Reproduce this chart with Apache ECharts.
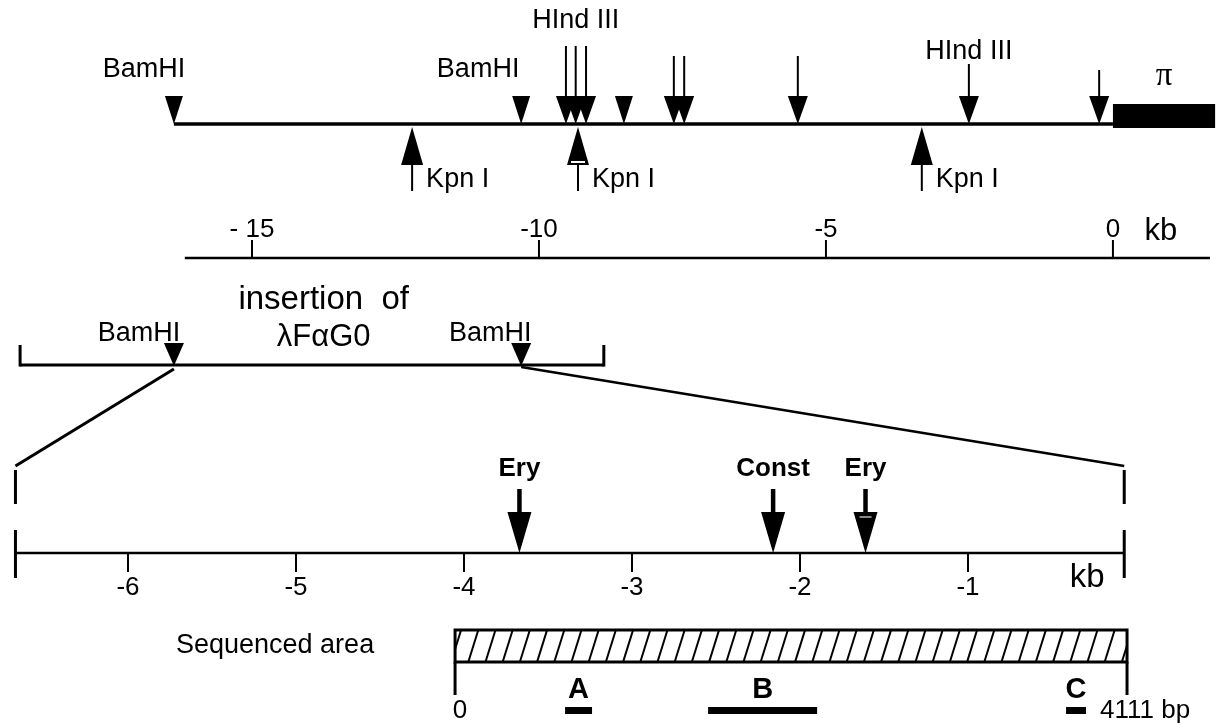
<!DOCTYPE html>
<html><head><meta charset="utf-8">
<script src="https://cdn.jsdelivr.net/npm/echarts@6/dist/echarts.min.js"></script>
<style>html,body{margin:0;padding:0;background:#fff}#c{width:1222px;height:728px}</style>
</head><body><div id="c"></div>
<script>
// ===== DATA =====
// upper restriction map (kb)
const mapSpan = [-16.36, 0];
const piRegion = [0, 1.78];
const piLabel = 'π';
const bamHISites = [-16.36, -10.31];
const bamHILabelPos = [-16.88, -11.06];
const plainTriangleSites = [-8.52];
const downArrowSites = [-9.53, -9.36, -9.18, -7.65, -7.47, -5.49, -2.51, -0.24];
const hindIIILabels = ['HInd III', 'HInd III'];
const hindIIILabelPos = [-9.36, -2.51];
const kpnISites = [-12.21, -9.32, -3.33];
const kpnINotched = [false, true, false];
const kpnILabel = 'Kpn I';
// upper scale (kb)
const topScaleSpan = [-16.17, 1.69];
const topTicks = [-15, -10, -5, 0];
const topTickLabels = ['- 15', '-10', '-5', '0'];
const unitLabel = 'kb';
// insertion bracket (kb, upper scale)
const insertionSpan = [-19.04, -8.87];
const insertionText = ['insertion  of', 'λFαG0'];
const insertionTextPos = -13.75;
const bamHILowerLabelPos = [-16.97, -10.85];
// expanded map (kb)
const lowerSpan = [-6.67, -0.07];
const lowerTicks = [-6, -5, -4, -3, -2, -1];
const lowerTickLabels = ['-6', '-5', '-4', '-3', '-2', '-1'];
const siteNames = ['Ery', 'Const', 'Ery'];
const sitePos = [-3.67, -2.16, -1.61];
const siteNotched = [false, false, true];
// sequenced area (bp)
const seqSpan = [0, 4111];
const seqEndLabels = ['0', '4111 bp'];
const seqTitle = 'Sequenced area';
const fragNames = ['A', 'B', 'C'];
const fragStart = [673, 1548, 3738];
const fragEnd = [838, 2215, 3860];

// ===== LAYOUT (pixel rows / sizes) =====
const L = {
  hindLabelY: [21, 52], bamLabelY: 70,
  mapY: 124, triTop: 96, triHW: 9,
  stemTop: [46, 46, 46, 56, 56, 56, 64, 70], headH: 28, headHW: 10,
  piTop: 104, piBottom: 128, piLabelY: 76,
  kpnTip: 127, kpnBase: 165, kpnStemEnd: 191, kpnHW: 11, kpnLabelY: 180, kpnLabelDx: 14,
  topScaleY: 258, topTickTop: 240, topLabelY: 230, unitDx: 48,
  insTextY: 300, insText2Y: 337, bracketY: 365, bracketTop: 345, insBamTop: 343, insBamLabelY: 334,
  zoomTopY: 369, zoomBotY: 466,
  lowY: 553, lowTickBottom: 572, lowLabelY: 588, endBar1: [470, 504], endBar2: [530, 578],
  lowUnitX: -0.22, lowUnitY: 578,
  siteLabelY: 469, siteStemTop: 489, siteHeadTop: 512, siteHeadHW: 12,
  seqTop: 630, seqBottom: 662, seqLegBottom: 695, seqTitleDx: -180,
  fragLabelY: 690, fragTop: 707, fragBottom: 714, endLabelY: 711, endLabelDx: [5, -27]
};
const FONT = "'Liberation Sans', Arial, Helvetica, sans-serif";
const INK = '#000';

// ===== HELPERS =====
function P(api, x, y) { return api.coord([x, y]); }
function line(a, b, w, color) { return { type: 'line', shape: { x1: a[0], y1: a[1], x2: b[0], y2: b[1] }, style: { stroke: color || INK, lineWidth: w || 2 } }; }
function poly(pts) { return { type: 'polygon', shape: { points: pts }, style: { fill: INK } }; }
function text(t, x, y, size, opt) {
  opt = opt || {};
  return { type: 'text', style: { text: t, x: x, y: y, font: (opt.weight || 'normal') + ' ' + size + 'px ' + (opt.family || FONT), fill: INK, align: opt.align || 'center', verticalAlign: 'middle' } };
}
function cs(grid, data, fn) {
  return { type: 'custom', xAxisIndex: grid, yAxisIndex: grid, data: data, clip: false, silent: true,
    renderItem: function (params, api) { return { type: 'group', children: fn(params, api) }; } };
}
function downTri(api, v, top, tip, hw) {
  const a = P(api, v, tip), t = P(api, v, top);
  return poly([[a[0] - hw, t[1]], [a[0] + hw, t[1]], [a[0], a[1]]]);
}

const series = [];
// upper map line + pi box
series.push(cs(0, [mapSpan], (p, api) => [line(P(api, api.value(0), L.mapY), P(api, api.value(1), L.mapY), 3.5)]));
series.push(cs(0, [piRegion], (p, api) => {
  const a = P(api, api.value(0), L.piTop), b = P(api, api.value(1), L.piBottom);
  const c = P(api, (api.value(0) + api.value(1)) / 2, L.piLabelY);
  return [{ type: 'rect', shape: { x: a[0], y: a[1], width: b[0] - a[0], height: b[1] - a[1] }, style: { fill: INK } },
    text(piLabel, c[0], c[1], 33, { family: "'Liberation Serif', 'DejaVu Serif', serif" })];
}));
// BamHI and plain triangles
series.push(cs(0, bamHISites.map((v, i) => [v, bamHILabelPos[i]]), (p, api) => {
  const lp = P(api, api.value(1), L.bamLabelY);
  return [downTri(api, api.value(0), L.triTop, L.mapY, L.triHW), text('BamHI', lp[0], lp[1], 27)];
}));
series.push(cs(0, plainTriangleSites.map(v => [v]), (p, api) => [downTri(api, api.value(0), L.triTop, L.mapY, L.triHW)]));
// HindIII-type arrows
series.push(cs(0, downArrowSites.map(v => [v]), (p, api) => {
  const v = api.value(0);
  const top = P(api, v, L.stemTop[p.dataIndex]), hd = P(api, v, L.mapY - L.headH);
  return [line(top, hd, 2), downTri(api, v, L.mapY - L.headH, L.mapY, L.headHW)];
}));
series.push(cs(0, hindIIILabelPos.map((v, i) => [v, i]), (p, api) => {
  const c = P(api, api.value(0), L.hindLabelY[p.dataIndex]);
  return [text(hindIIILabels[p.dataIndex], c[0], c[1], 27)];
}));
// KpnI arrows
series.push(cs(0, kpnISites.map(v => [v]), (p, api) => {
  const v = api.value(0);
  const tip = P(api, v, L.kpnTip), base = P(api, v, L.kpnBase), end = P(api, v, L.kpnStemEnd);
  const lp = P(api, v, L.kpnLabelY);
  const out = [poly([[tip[0], tip[1]], [tip[0] - L.kpnHW, base[1]], [tip[0] + L.kpnHW, base[1]]]), line(base, end, 2),
    text(kpnILabel, lp[0] + L.kpnLabelDx, lp[1], 27, { align: 'left' })];
  if (kpnINotched[p.dataIndex]) out.push(line([base[0] - 7, base[1] - 3], [base[0] + 7, base[1] - 3], 2, '#fff'));
  return out;
}));
// upper scale
series.push(cs(0, [topScaleSpan], (p, api) => [line(P(api, api.value(0), L.topScaleY), P(api, api.value(1), L.topScaleY), 2.5)]));
series.push(cs(0, topTicks.map((v, i) => [v, i]), (p, api) => {
  const v = api.value(0);
  const a = P(api, v, L.topTickTop), b = P(api, v, L.topScaleY), lp = P(api, v, L.topLabelY);
  const out = [line(a, b, 2), text(topTickLabels[p.dataIndex], lp[0], lp[1], 26)];
  if (p.dataIndex === topTicks.length - 1) out.push(text(unitLabel, lp[0] + L.unitDx, lp[1] + 1, 31));
  return out;
}));
// insertion bracket
series.push(cs(0, [insertionSpan], (p, api) => {
  const a = P(api, api.value(0), L.bracketY), b = P(api, api.value(1), L.bracketY);
  const at = P(api, api.value(0), L.bracketTop), bt = P(api, api.value(1), L.bracketTop);
  const t1 = P(api, insertionTextPos, L.insTextY), t2 = P(api, insertionTextPos, L.insText2Y);
  return [line([a[0], a[1]], [b[0], b[1]], 3), line(at, [a[0], a[1] + 1.5], 3), line(bt, [b[0], b[1] + 1.5], 3),
    text(insertionText[0], t1[0], t1[1], 33), text(insertionText[1], t2[0], t2[1], 31)];
}));
series.push(cs(0, bamHISites.map((v, i) => [v, bamHILowerLabelPos[i]]), (p, api) => {
  const lp = P(api, api.value(1), L.insBamLabelY);
  return [downTri(api, api.value(0), L.insBamTop, L.bracketY + 1, L.triHW + 1), text('BamHI', lp[0], lp[1], 27)];
}));
// expanded scale
series.push(cs(1, [lowerSpan], (p, api) => {
  const a = P(api, api.value(0), L.lowY), b = P(api, api.value(1), L.lowY);
  const out = [line(a, b, 2.5)];
  [api.value(0), api.value(1)].forEach(v => {
    out.push(line(P(api, v, L.endBar1[0]), P(api, v, L.endBar1[1]), 3));
    out.push(line(P(api, v, L.endBar2[0]), P(api, v, L.endBar2[1]), 3));
  });
  const u = P(api, api.value(1) + L.lowUnitX, L.lowUnitY);
  out.push(text(unitLabel, u[0], u[1], 33));
  return out;
}));
series.push(cs(1, lowerTicks.map((v, i) => [v, i]), (p, api) => {
  const v = api.value(0);
  const a = P(api, v, L.lowY), b = P(api, v, L.lowTickBottom), lp = P(api, v, L.lowLabelY);
  return [line(a, b, 2), text(lowerTickLabels[p.dataIndex], lp[0], lp[1], 26)];
}));
series.push(cs(1, sitePos.map((v, i) => [v, i]), (p, api) => {
  const v = api.value(0);
  const top = P(api, v, L.siteStemTop), hd = P(api, v, L.siteHeadTop), tip = P(api, v, L.lowY);
  const lp = P(api, v, L.siteLabelY);
  const out = [line(top, [hd[0], hd[1] + 2], 4.5),
    poly([[hd[0] - L.siteHeadHW, hd[1]], [hd[0] + L.siteHeadHW, hd[1]], [tip[0], tip[1]]]),
    text(siteNames[p.dataIndex], lp[0], lp[1], 26, { weight: 'bold' })];
  if (siteNotched[p.dataIndex]) out.push(line([hd[0] - 6, hd[1] + 5], [hd[0] + 6, hd[1] + 5], 2, '#888'));
  return out;
}));
// sequenced area
series.push(cs(2, [seqSpan], (p, api) => {
  const a = P(api, api.value(0), L.seqTop), b = P(api, api.value(1), L.seqBottom);
  const x0 = a[0], x1 = b[0], yT = a[1], yB = b[1], h = yB - yT;
  const out = [{ type: 'rect', shape: { x: x0, y: yT, width: x1 - x0, height: h }, style: { fill: '#fff', stroke: INK, lineWidth: 3 } }];
  const dx = 10, period = 17.2;
  for (let s = x0 - dx + 6; s < x1; s += period) {
    let sx = s, sy = yB, ex = s + dx, ey = yT;
    if (sx < x0) { sy = yB - (x0 - s) / dx * h; sx = x0; }
    if (ex > x1) { ey = yB - (x1 - s) / dx * h; ex = x1; }
    if (ex > sx) out.push(line([sx, sy], [ex, ey], 2));
  }
  const la = P(api, api.value(0), L.seqLegBottom), lb = P(api, api.value(1), L.seqLegBottom);
  out.push(line([x0, yB], la, 3), line([x1, yB], lb, 3));
  const e0 = P(api, api.value(0), L.endLabelY), e1 = P(api, api.value(1), L.endLabelY);
  out.push(text(seqEndLabels[0], e0[0] + L.endLabelDx[0], e0[1], 26));
  out.push(text(seqEndLabels[1], e1[0] + L.endLabelDx[1], e1[1], 26, { align: 'left' }));
  const tt = P(api, api.value(0), (L.seqTop + L.seqBottom) / 2);
  out.push(text(seqTitle, tt[0] + L.seqTitleDx, tt[1], 27));
  return out;
}));
series.push(cs(2, fragStart.map((v, i) => [v, fragEnd[i]]), (p, api) => {
  const a = P(api, api.value(0), L.fragTop), b = P(api, api.value(1), L.fragBottom);
  const c = P(api, (api.value(0) + api.value(1)) / 2, L.fragLabelY);
  return [{ type: 'rect', shape: { x: a[0], y: a[1], width: b[0] - a[0], height: b[1] - a[1] }, style: { fill: INK } },
    text(fragNames[p.dataIndex], c[0], c[1], 29, { weight: 'bold' })];
}));

const grids = [0, 1, 2].map(() => ({ left: 0, right: 0, top: 0, bottom: 0 }));
const xRanges = [[-19.39, 1.90], [-6.762, 0.512], [-2784, 4692]];
const option = {
  animation: false,
  backgroundColor: '#fff',
  grid: grids,
  xAxis: xRanges.map((r, i) => ({ type: 'value', gridIndex: i, min: r[0], max: r[1], show: false })),
  yAxis: [0, 1, 2].map(i => ({ type: 'value', gridIndex: i, min: 0, max: 728, inverse: true, show: false })),
  series: series
};
const chart = echarts.init(document.getElementById('c'));
chart.setOption(option);
// zoom-in connector lines, placed through the two axes' scales
const z1 = chart.convertToPixel({ gridIndex: 0 }, [bamHISites[0], L.zoomTopY]);
const z2 = chart.convertToPixel({ gridIndex: 1 }, [lowerSpan[0], L.zoomBotY]);
const z3 = chart.convertToPixel({ gridIndex: 0 }, [bamHISites[1], L.zoomTopY - 2]);
const z4 = chart.convertToPixel({ gridIndex: 1 }, [lowerSpan[1], L.zoomBotY]);
chart.setOption({ graphic: [
  { type: 'line', shape: { x1: z1[0], y1: z1[1], x2: z2[0], y2: z2[1] }, style: { stroke: INK, lineWidth: 3 } },
  { type: 'line', shape: { x1: z3[0], y1: z3[1], x2: z4[0], y2: z4[1] }, style: { stroke: INK, lineWidth: 2.5 } }
] });
</script></body></html>
